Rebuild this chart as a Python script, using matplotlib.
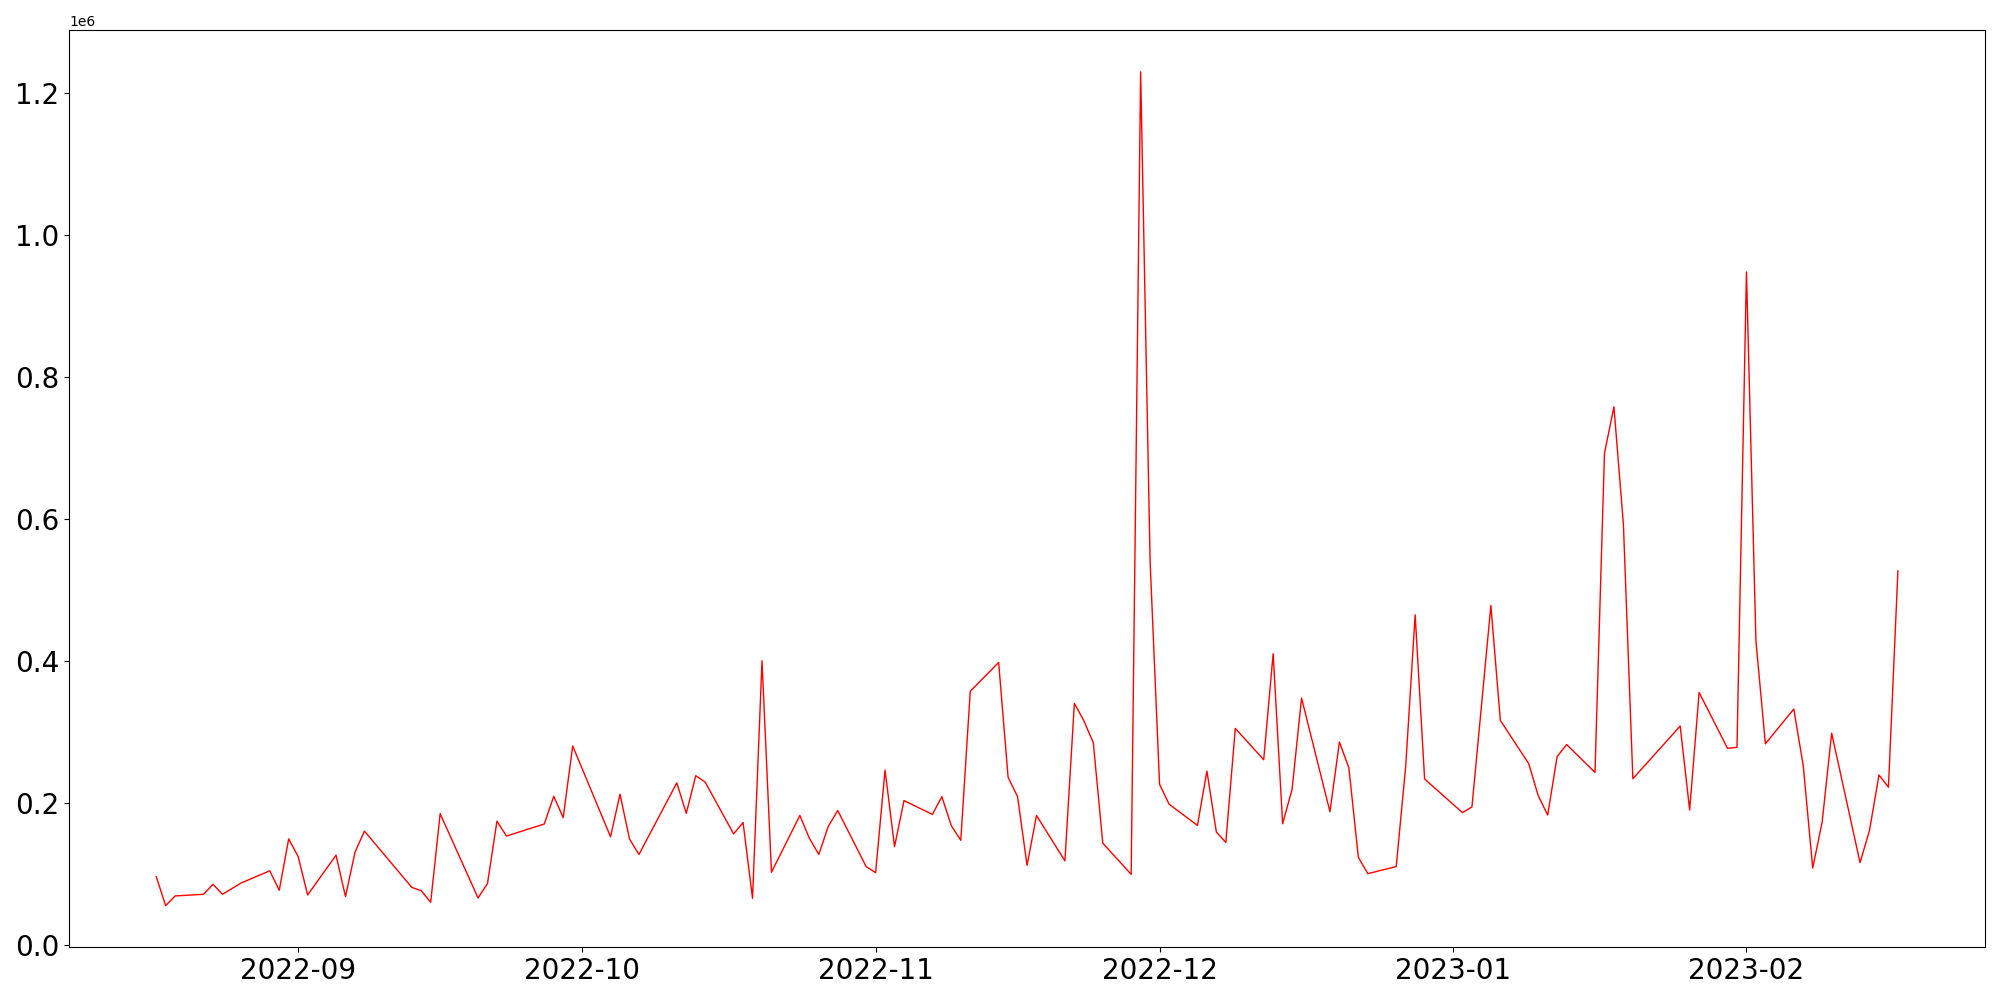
import matplotlib
matplotlib.use("Agg")
import matplotlib.pyplot as plt
import pandas as pd

# trading days and values
dates = [
    "2022-08-17", "2022-08-18", "2022-08-19", "2022-08-22", "2022-08-23", "2022-08-24",
    "2022-08-25", "2022-08-26", "2022-08-29", "2022-08-30", "2022-08-31", "2022-09-01",
    "2022-09-02", "2022-09-05", "2022-09-06", "2022-09-07", "2022-09-08", "2022-09-13",
    "2022-09-14", "2022-09-15", "2022-09-16", "2022-09-20", "2022-09-21", "2022-09-22",
    "2022-09-23", "2022-09-27", "2022-09-28", "2022-09-29", "2022-09-30", "2022-10-04",
    "2022-10-05", "2022-10-06", "2022-10-07", "2022-10-11", "2022-10-12", "2022-10-13",
    "2022-10-14", "2022-10-17", "2022-10-18", "2022-10-19", "2022-10-20", "2022-10-21",
    "2022-10-24", "2022-10-25", "2022-10-26", "2022-10-27", "2022-10-28", "2022-10-31",
    "2022-11-01", "2022-11-02", "2022-11-03", "2022-11-04", "2022-11-07", "2022-11-08",
    "2022-11-09", "2022-11-10", "2022-11-11", "2022-11-14", "2022-11-15", "2022-11-16",
    "2022-11-17", "2022-11-18", "2022-11-21", "2022-11-22", "2022-11-23", "2022-11-24",
    "2022-11-25", "2022-11-28", "2022-11-29", "2022-11-30", "2022-12-01", "2022-12-02",
    "2022-12-05", "2022-12-06", "2022-12-07", "2022-12-08", "2022-12-09", "2022-12-12",
    "2022-12-13", "2022-12-14", "2022-12-15", "2022-12-16", "2022-12-19", "2022-12-20",
    "2022-12-21", "2022-12-22", "2022-12-23", "2022-12-26", "2022-12-27", "2022-12-28",
    "2022-12-29", "2023-01-02", "2023-01-03", "2023-01-05", "2023-01-06", "2023-01-09",
    "2023-01-10", "2023-01-11", "2023-01-12", "2023-01-13", "2023-01-16", "2023-01-17",
    "2023-01-18", "2023-01-19", "2023-01-20", "2023-01-25", "2023-01-26", "2023-01-27",
    "2023-01-30", "2023-01-31", "2023-02-01", "2023-02-02", "2023-02-03", "2023-02-06",
    "2023-02-07", "2023-02-08", "2023-02-09", "2023-02-10", "2023-02-13", "2023-02-14",
    "2023-02-15", "2023-02-16", "2023-02-17",
]

volume = [
    96000, 55000, 68600, 70900, 85000, 70900,
    79000, 87000, 104000, 76500, 149000, 124000,
    70000, 126000, 67600, 130000, 160000, 80700,
    76000, 59600, 184500, 65800, 86000, 174000,
    153000, 170000, 209000, 179000, 280000, 152000,
    212000, 149000, 127000, 228000, 185000, 238000,
    229000, 156000, 172000, 65200, 400000, 102000,
    182000, 150000, 127000, 166600, 189000, 110000,
    101400, 246000, 138000, 203000, 183500, 208500,
    167600, 147000, 357000, 397700, 235700, 208500,
    111700, 182000, 118000, 340000, 315500, 284500,
    143000, 99000, 1230000, 540000, 226000, 198000,
    168000, 244600, 158700, 144000, 304700, 260600,
    410000, 170400, 219000, 347400, 187300, 285500,
    249000, 123000, 100000, 110000, 251000, 464800,
    233400, 186000, 194000, 478000, 316000, 255000,
    210000, 182600, 265000, 282000, 242700, 692500,
    758000, 592500, 233800, 308000, 189600, 355400,
    276600, 278000, 948000, 428000, 283000, 332000,
    252000, 108000, 173000, 298000, 115500, 161000,
    239000, 221800, 526700,
]

def main():
    x = pd.to_datetime(dates)

    fig, ax = plt.subplots(figsize=(20, 10), dpi=100)
    ax.plot(x, volume, color='red', linewidth=1)

    plt.xticks(fontsize=20)
    plt.yticks(fontsize=20)

    plt.tight_layout()
    plt.savefig("out.png", dpi=100)

if __name__ == "__main__":
    main()
